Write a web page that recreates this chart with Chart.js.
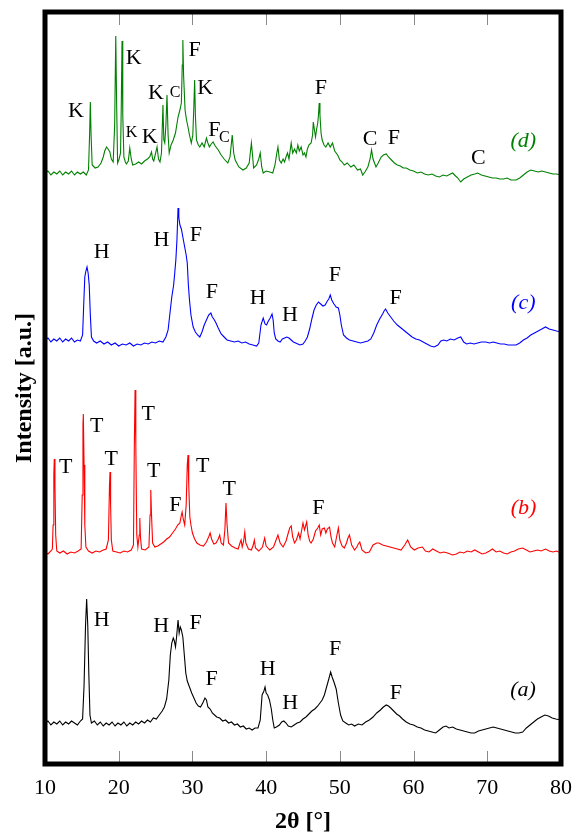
<!DOCTYPE html>
<html>
<head>
<meta charset="utf-8">
<script src="https://cdn.jsdelivr.net/npm/chart.js"></script>
<style>
  html, body { margin: 0; padding: 0; background: #fff; }
  #wrap { width: 576px; height: 834px; }
</style>
</head>
<body>
<div id="wrap"><canvas id="xrd" width="576" height="834"></canvas></div>
<script>
// 2theta (deg) vs intensity (a.u., traces already stacked)
const traceA = [[10,42],[10.4,44],[10.8,40],[11.2,43],[11.6,41],[12,44],[12.4,40],[12.8,43],[13.2,41],[13.6,44],[14,42],[14.4,40],[14.8,44],[15.1,46],[15.3,80],[15.5,140],[15.65,166],[15.8,140],[15.95,90],[16.1,50],[16.3,42],[16.7,44],[17.1,40],[17.5,43],[17.9,39],[18.3,42],[18.7,40],[19.1,43],[19.5,39],[19.9,42],[20.3,40],[20.7,43],[21.1,39],[21.5,42],[21.9,40],[22.3,43],[22.7,41],[23.1,44],[23.5,42],[23.9,45],[24.3,43],[24.7,47],[25.1,46],[25.5,50],[25.9,54],[26.2,58],[26.5,66],[26.8,85],[27.0,110],[27.2,122],[27.4,127],[27.55,124],[27.7,118],[27.85,128],[28.05,145],[28.2,132],[28.35,138],[28.5,135],[28.7,128],[28.9,110],[29.1,92],[29.3,84],[29.6,78],[29.9,72],[30.2,67],[30.5,62],[30.8,59],[31.1,58],[31.4,62],[31.7,67],[31.9,65],[32.1,58],[32.4,56],[32.7,52],[33.0,50],[33.3,48],[33.7,47],[34.1,44],[34.5,45],[34.9,42],[35.3,43],[35.7,40],[36.1,41],[36.5,38],[36.9,39],[37.3,36],[37.7,37],[38.1,35],[38.5,37],[38.9,37],[39.2,45],[39.45,70],[39.7,74],[39.85,78],[40.0,72],[40.2,70],[40.45,65],[40.7,56],[40.9,45],[41.1,37],[41.4,38],[41.8,40],[42.1,43],[42.4,44],[42.7,42],[43.0,39],[43.4,38],[43.8,40],[44.2,42],[44.6,43],[45.0,46],[45.4,48],[45.8,51],[46.2,54],[46.6,56],[47.0,59],[47.3,62],[47.6,65],[47.9,70],[48.2,78],[48.5,86],[48.75,93],[48.95,88],[49.2,83],[49.5,76],[49.8,62],[50.1,50],[50.4,44],[50.8,42],[51.2,40],[51.6,41],[52.0,39],[52.5,41],[53.0,40],[53.5,43],[54.0,45],[54.5,48],[55.0,52],[55.5,55],[55.9,58],[56.3,60],[56.6,59],[56.9,57],[57.3,54],[57.7,51],[58.1,49],[58.5,46],[59.0,43],[59.5,41],[60.0,40],[60.5,38],[61.0,37],[61.5,35],[62.0,34],[62.5,33],[63.0,32],[63.5,35],[64.0,38],[64.4,39],[64.8,37],[65.3,38],[65.8,36],[66.3,35],[66.8,34],[67.3,33],[67.8,32],[68.3,32],[68.8,34],[69.3,35],[69.8,36],[70.3,37],[70.8,38],[71.3,37],[71.8,36],[72.3,35],[72.8,34],[73.3,33],[73.8,32],[74.3,32],[74.8,33],[75.3,37],[75.8,40],[76.3,43],[76.8,46],[77.3,48],[77.8,50],[78.3,49],[78.8,47],[79.3,46],[80,45]];

const traceB = [[10,213],[10.4,211],[10.8,214],[11.0,216],[11.1,240],[11.2,290],[11.26,306],[11.35,280],[11.45,230],[11.6,214],[12,212],[12.5,214],[13,211],[13.5,213],[14,212],[14.5,214],[14.9,216],[15.05,270],[15.15,340],[15.2,351],[15.3,300],[15.4,240],[15.55,218],[15.9,214],[16.4,212],[16.9,214],[17.4,213],[17.9,215],[18.3,216],[18.6,225],[18.75,280],[18.82,293],[18.9,260],[19.0,225],[19.2,214],[19.7,213],[20.2,212],[20.7,214],[21.2,213],[21.7,215],[22.0,220],[22.12,320],[22.22,375],[22.32,320],[22.45,230],[22.6,218],[22.78,230],[22.86,247],[22.95,228],[23.1,216],[23.6,215],[24.1,218],[24.25,250],[24.35,275],[24.45,250],[24.6,222],[24.9,218],[25.3,219],[25.7,221],[26.1,223],[26.5,226],[26.9,228],[27.3,232],[27.7,236],[28.0,240],[28.3,242],[28.5,250],[28.6,253],[28.75,246],[28.95,240],[29.15,260],[29.3,300],[29.4,310],[29.5,280],[29.65,248],[29.8,240],[30.0,232],[30.3,226],[30.6,222],[31.0,220],[31.5,219],[31.9,223],[32.2,228],[32.4,232],[32.6,226],[32.9,221],[33.2,222],[33.5,226],[33.7,230],[33.9,222],[34.2,220],[34.4,235],[34.55,262],[34.7,240],[34.9,222],[35.3,219],[35.8,217],[36.2,216],[36.45,222],[36.6,225],[36.75,218],[36.95,224],[37.1,233],[37.25,222],[37.6,216],[38.0,215],[38.25,220],[38.4,225],[38.55,217],[39.0,214],[39.5,218],[39.8,227],[40.0,219],[40.5,215],[41.0,218],[41.3,224],[41.6,230],[41.9,222],[42.3,218],[42.7,224],[43.0,232],[43.2,237],[43.4,239],[43.6,228],[43.85,222],[44.1,225],[44.4,232],[44.6,226],[44.85,236],[45.0,242],[45.2,235],[45.5,243],[45.7,230],[45.9,224],[46.1,222],[46.4,226],[46.7,234],[47.0,237],[47.2,240],[47.4,230],[47.6,236],[47.9,237],[48.1,232],[48.3,236],[48.6,238],[48.8,228],[49.0,222],[49.3,218],[49.55,228],[49.8,237],[50.0,225],[50.3,219],[50.6,217],[50.9,222],[51.1,227],[51.3,230],[51.6,220],[52.0,215],[52.3,218],[52.5,221],[52.7,223],[53.0,215],[53.5,212],[54.0,213],[54.5,220],[55.0,222],[55.3,222],[55.8,220],[56.3,219],[56.8,218],[57.3,217],[57.8,216],[58.3,215],[58.8,220],[59.2,225],[59.6,218],[60.1,215],[60.6,217],[61.2,218],[61.6,214],[62.1,213],[62.6,216],[63.1,214],[63.6,212],[64.1,213],[64.6,212],[65.3,210],[65.8,211],[66.3,213],[66.8,212],[67.3,214],[67.8,213],[68.3,215],[68.8,213],[69.3,211],[69.8,212],[70.3,214],[70.7,216],[71.2,213],[71.7,214],[72.2,212],[72.7,211],[73.2,213],[73.7,214],[74.2,216],[74.8,217],[75.3,215],[75.8,213],[76.3,214],[76.8,215],[77.3,214],[77.9,216],[78.4,214],[78.9,213],[79.4,214],[80,212]];

const traceC = [[10,425],[10.4,427],[10.8,423],[11.2,426],[11.6,424],[12,427],[12.4,423],[12.8,426],[13.2,424],[13.6,427],[14,423],[14.4,425],[14.8,424],[15.1,430],[15.25,460],[15.4,488],[15.55,494],[15.7,498],[15.85,492],[16.0,480],[16.15,450],[16.3,428],[16.6,424],[17,422],[17.5,424],[18,421],[18.5,423],[19,420],[19.5,422],[20,419],[20.5,421],[21,420],[21.5,422],[22,419],[22.5,421],[23,420],[23.5,422],[24,421],[24.5,423],[25,422],[25.5,424],[26.0,423],[26.4,428],[26.7,435],[27.0,455],[27.2,468],[27.45,480],[27.6,492],[27.75,505],[27.9,525],[28.05,557],[28.15,548],[28.3,540],[28.5,536],[28.7,528],[28.95,518],[29.15,510],[29.3,502],[29.45,480],[29.6,465],[29.8,450],[30.1,438],[30.4,433],[30.7,430],[31.0,428],[31.3,433],[31.6,440],[31.9,445],[32.2,450],[32.5,452],[32.7,448],[32.9,446],[33.2,442],[33.5,437],[33.9,431],[34.3,428],[34.7,425],[35.2,424],[35.7,423],[36.2,424],[36.7,422],[37.2,423],[37.7,421],[38.2,420],[38.7,419],[39.0,422],[39.3,440],[39.6,447],[39.85,441],[40.05,440],[40.3,444],[40.55,447],[40.8,451],[40.95,445],[41.1,432],[41.3,426],[41.6,424],[41.9,423],[42.2,426],[42.5,427],[42.8,428],[43.1,427],[43.4,425],[43.7,423],[44.0,422],[44.3,421],[44.6,420],[45.0,421],[45.3,424],[45.6,428],[45.9,436],[46.2,446],[46.5,455],[46.8,460],[47.1,463],[47.4,461],[47.7,459],[48.0,460],[48.3,464],[48.5,466],[48.7,470],[48.9,465],[49.2,461],[49.5,458],[49.8,457],[50.0,450],[50.2,440],[50.5,430],[50.9,427],[51.3,425],[51.8,424],[52.3,423],[52.8,422],[53.3,423],[53.8,424],[54.2,426],[54.6,432],[55.0,440],[55.4,446],[55.8,451],[56.0,454],[56.2,456],[56.5,452],[56.9,448],[57.3,444],[57.8,440],[58.3,437],[58.8,434],[59.3,431],[59.8,428],[60.3,426],[60.8,425],[61.3,423],[61.8,421],[62.3,419],[62.8,418],[63.3,420],[63.7,424],[64.1,425],[64.5,424],[65.0,426],[65.5,425],[66.0,427],[66.4,428],[66.8,423],[67.2,421],[67.7,422],[68.2,421],[68.7,422],[69.2,423],[69.8,423],[70.3,422],[70.8,423],[71.3,422],[71.8,421],[72.3,421],[72.8,420],[73.3,420],[73.9,420],[74.4,422],[74.9,425],[75.4,427],[75.9,430],[76.4,432],[76.9,434],[77.4,436],[77.9,438],[78.4,436],[78.9,435],[79.4,434],[80,433]];

const traceD = [[10,592],[10.4,594],[10.8,590],[11.2,593],[11.6,591],[12,594],[12.4,590],[12.8,593],[13.2,591],[13.6,594],[14,590],[14.4,593],[14.8,591],[15.2,593],[15.6,590],[15.9,595],[16.05,630],[16.15,663],[16.25,630],[16.4,600],[16.8,597],[17.2,598],[17.6,602],[17.9,608],[18.1,614],[18.35,618],[18.55,616],[18.8,613],[19.0,606],[19.25,603],[19.45,640],[19.6,729],[19.72,660],[19.85,602],[20.05,606],[20.25,612],[20.35,660],[20.45,724],[20.55,650],[20.7,608],[20.9,603],[21.05,601],[21.3,604],[21.5,617],[21.7,606],[21.9,600],[22.3,601],[22.7,603],[23.1,601],[23.5,604],[23.9,606],[24.2,608],[24.45,613],[24.6,606],[24.75,604],[24.95,610],[25.2,618],[25.4,606],[25.6,603],[25.8,612],[26.0,660],[26.12,625],[26.25,622],[26.4,640],[26.55,670],[26.7,630],[26.85,612],[27.1,620],[27.4,625],[27.7,632],[28.05,648],[28.3,655],[28.5,662],[28.62,700],[28.7,725],[28.8,690],[29.0,655],[29.2,645],[29.4,638],[29.6,630],[29.85,622],[30.05,630],[30.2,660],[30.3,685],[30.4,650],[30.55,625],[30.8,620],[31.0,618],[31.3,622],[31.6,618],[31.9,627],[32.1,622],[32.3,618],[32.55,621],[32.8,623],[33.1,619],[33.5,615],[33.9,610],[34.3,606],[34.8,602],[35.1,608],[35.4,630],[35.6,612],[35.8,605],[36.3,598],[36.85,595],[37.3,597],[37.7,602],[38.0,622],[38.15,610],[38.3,597],[38.7,600],[39.0,606],[39.2,612],[39.4,598],[39.6,592],[40.0,594],[40.5,593],[40.9,592],[41.2,600],[41.45,612],[41.6,618],[41.8,605],[42.05,602],[42.3,606],[42.5,603],[42.7,608],[42.9,612],[43.1,606],[43.4,622],[43.6,612],[43.85,616],[44.1,612],[44.3,620],[44.5,614],[44.75,618],[45.0,610],[45.2,612],[45.4,608],[45.6,616],[45.8,620],[46.1,622],[46.3,630],[46.4,643],[46.55,635],[46.7,628],[46.85,636],[47.0,642],[47.1,650],[47.2,662],[47.3,650],[47.45,632],[47.6,625],[47.85,620],[48.1,618],[48.4,622],[48.7,618],[49.0,622],[49.3,614],[49.7,610],[50.0,605],[50.3,603],[50.6,600],[51.0,602],[51.5,598],[51.9,600],[52.4,595],[52.8,596],[53.1,590],[53.4,593],[53.8,598],[54.1,606],[54.3,615],[54.5,606],[54.9,598],[55.2,602],[55.6,608],[55.9,610],[56.3,611],[56.6,608],[57.0,605],[57.4,602],[57.8,600],[58.2,599],[58.6,597],[59.0,597],[59.5,595],[60.0,594],[60.5,592],[61.0,593],[61.5,591],[62.0,590],[62.5,591],[63.0,589],[63.5,588],[64.0,590],[64.5,589],[65.0,591],[65.3,592],[65.7,589],[66.0,587],[66.4,583],[66.8,586],[67.3,588],[67.8,590],[68.3,591],[68.7,592],[69.2,590],[69.7,589],[70.2,588],[70.7,587],[71.2,587],[71.7,586],[72.2,586],[72.7,587],[73.2,585],[73.9,585],[74.4,587],[74.9,590],[75.4,593],[75.9,595],[76.4,594],[76.9,593],[77.4,594],[77.9,593],[78.4,592],[78.9,591],[79.4,591],[80,590]];

// phase markers: [text, 2theta, intensity]
const peaksA = [["H",17.7,145],["H",25.75,139],["F",30.42,142],["F",32.6,86],["H",40.2,96],["H",43.25,62],["F",49.37,116],["F",57.6,72]];
const peaksB = [["T",12.8,298],["T",17.0,339],["T",18.98,306],["T",24.0,351],["T",24.76,294],["F",27.67,260],["T",31.4,299],["T",35.0,276],["F",47.07,257]];
const peaksC = [["H",17.7,513],["H",25.8,525],["F",30.48,530],["F",32.64,473],["H",38.84,467],["H",43.24,450],["F",49.33,490],["F",57.56,467]];
const peaksD = [["K",14.2,654],["K",22.02,707],["K",24.19,628],["K",25.06,672],["F",30.31,715],["K",31.73,677],["F",32.97,635],["F",47.41,677],["C",54.11,626],["F",57.34,627],["C",68.79,607]];
const peaksDsmall = [["K",21.74,632],["C",27.64,672],["C",34.33,627]];

const sampleNames = ["(a)", "(b)", "(c)", "(d)"];
const sampleTagPos = [[74.85,75],[74.92,257],[74.88,462],[74.88,624]];
const sampleColors = ["#000000", "#ff0000", "#0000ff", "#008000"];

const xTicks = [10, 20, 30, 40, 50, 60, 70, 80];

const SERIF = "'Liberation Serif', 'Times New Roman', serif";

const toPoints = (arr) => arr.map(([x, y]) => ({x, y}));

const annotate = {
    id: "annotate",
    afterDatasetsDraw(chart) {
        const {ctx, chartArea: a, scales: {x, y}} = chart;
        ctx.save();

        // inward ticks top and bottom
        ctx.strokeStyle = "#8a8a8a";
        ctx.lineWidth = 1;
        xTicks.slice(1, -1).forEach((t) => {
            const px = Math.round(x.getPixelForValue(t)) + 0.5;
            ctx.beginPath();
            ctx.moveTo(px, a.top);
            ctx.lineTo(px, a.top + 13);
            ctx.moveTo(px, a.bottom);
            ctx.lineTo(px, a.bottom - 13);
            ctx.stroke();
        });

        // heavy frame
        ctx.strokeStyle = "#000";
        ctx.lineWidth = 5;
        ctx.strokeRect(a.left, a.top, a.right - a.left, a.bottom - a.top);

        ctx.textAlign = "center";
        ctx.textBaseline = "middle";
        ctx.fillStyle = "#000";
        ctx.font = `22px ${SERIF}`;
        [peaksA, peaksB, peaksC, peaksD].forEach((set) => {
            set.forEach(([txt, t, v]) => {
                ctx.fillText(txt, x.getPixelForValue(t), y.getPixelForValue(v));
            });
        });
        ctx.font = `16px ${SERIF}`;
        peaksDsmall.forEach(([txt, t, v]) => {
            ctx.fillText(txt, x.getPixelForValue(t), y.getPixelForValue(v));
        });

        ctx.font = `italic 22px ${SERIF}`;
        sampleNames.forEach((name, i) => {
            ctx.fillStyle = sampleColors[i];
            const [t, v] = sampleTagPos[i];
            ctx.fillText(name, x.getPixelForValue(t), y.getPixelForValue(v));
        });
        ctx.restore();
    },
};

new Chart(document.getElementById("xrd"), {
    type: "line",
    data: {
        datasets: [traceA, traceB, traceC, traceD].map((tr, i) => ({
            label: sampleNames[i],
            data: toPoints(tr),
            borderColor: sampleColors[i],
            borderWidth: 1.1,
            pointRadius: 0,
            tension: 0,
            fill: false,
        })),
    },
    options: {
        responsive: false,
        animation: false,
        events: [],
        layout: {padding: {top: 12, right: 15, left: 0, bottom: 0}},
        plugins: {legend: {display: false}, tooltip: {enabled: false}},
        scales: {
            x: {
                type: "linear",
                min: 10,
                max: 80,
                grid: {display: false, drawTicks: false},
                border: {display: false},
                ticks: {
                    stepSize: 10,
                    padding: 11,
                    color: "#000",
                    font: {family: SERIF, size: 22},
                },
                title: {
                    display: true,
                    text: "2θ [°]",
                    color: "#000",
                    padding: 0,
                    font: {family: SERIF, size: 24, weight: "bold", lineHeight: 1},
                },
                afterFit: (s) => {
                    s.height = 70;
                    s.paddingLeft = 0;
                    s.paddingRight = 0;
                },
            },
            y: {
                min: 1,
                max: 753,
                grid: {display: false, drawTicks: false},
                border: {display: false},
                ticks: {display: false},
                title: {
                    display: true,
                    text: "Intensity [a.u.]",
                    color: "#000",
                    padding: {top: 10, bottom: 0},
                    font: {family: SERIF, size: 24, weight: "bold", lineHeight: 1.2},
                },
                afterFit: (s) => { s.width = 45; },
            },
        },
    },
    plugins: [annotate],
});
</script>
</body>
</html>
